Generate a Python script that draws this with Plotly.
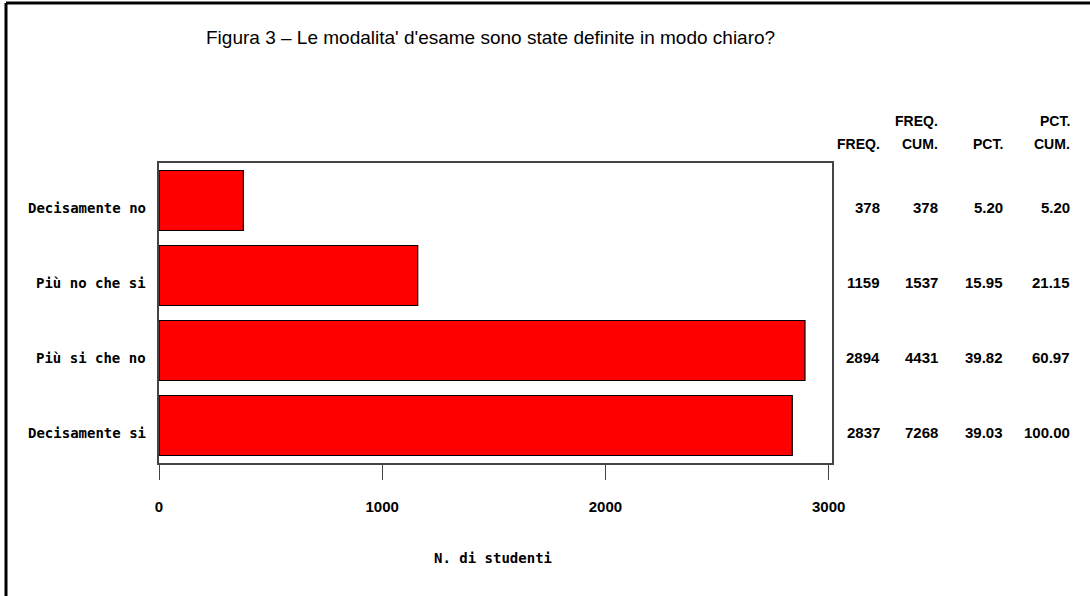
import plotly.graph_objects as go

categories = ["Decisamente no", "Più no che si", "Più si che no", "Decisamente si"]
freq = [378, 1159, 2894, 2837]
freq_cum = [378, 1537, 4431, 7268]
pct = [5.20, 15.95, 39.82, 39.03]
pct_cum = [5.20, 21.15, 60.97, 100.00]
x_ticks = [0, 1000, 2000, 3000]

title_text = "Figura 3 \u2013 Le modalita' d'esame sono state definite in modo chiaro?"
x_title = "N. di studenti"

W, H = 1090, 596
L, R, T, B = 159, 832, 163, 463
pw, ph = R - L, B - T

def px(x):
    return (x - L) / pw

def py(y):
    return (B - y) / ph

MONO = "DejaVu Sans Mono"
SANS = "Liberation Sans"
TEXT_DROP = -7  # SAS places row texts on a baseline slightly below bar centre

fig = go.Figure()
fig.add_trace(go.Bar(
    x=freq, y=categories, orientation="h",
    marker=dict(color="#ff0000", line=dict(color="#000000", width=1.2)),
    width=0.8, hoverinfo="x+y",
))

annotations = []
# category labels
for c in categories:
    annotations.append(dict(
        x=px(148), xref="paper", y=c, yref="y", text=c,
        showarrow=False, xanchor="right", yanchor="middle", yshift=TEXT_DROP,
        font=dict(family=MONO, size=14, color="#000", weight="bold"),
    ))

cols = [
    (freq, "{:d}", 882, ["", "FREQ."]),
    (freq_cum, "{:d}", 940, ["FREQ.", "CUM."]),
    (pct, "{:.2f}", 1005, ["", "PCT."]),
    (pct_cum, "{:.2f}", 1072, ["PCT.", "CUM."]),
]
num_font = dict(family=SANS, size=15, color="#000", weight="bold")
hdr_font = dict(family=SANS, size=14, color="#000", weight="bold")
for vals, fmt, xr, hdr in cols:
    for c, v in zip(categories, vals):
        annotations.append(dict(
            x=px(xr), xref="paper", y=c, yref="y", text=fmt.format(v),
            showarrow=False, xanchor="right", yanchor="middle", yshift=TEXT_DROP,
            font=num_font,
        ))
    for line, yy in zip(hdr, [121, 144]):
        if line:
            annotations.append(dict(
                x=px(xr), xref="paper", y=py(yy), yref="paper", text=line,
                showarrow=False, xanchor="right", yanchor="middle",
                font=hdr_font,
            ))

annotations.append(dict(
    x=(490 - L) / pw, xref="paper", y=py(38), yref="paper", text=title_text,
    showarrow=False, xanchor="center", yanchor="middle",
    font=dict(family=SANS, size=19, color="#000"),
))
annotations.append(dict(
    x=(493 - L) / pw, xref="paper", y=py(558), yref="paper", text=x_title,
    showarrow=False, xanchor="center", yanchor="middle",
    font=dict(family=MONO, size=14, color="#000", weight="bold"),
))

shapes = [
    dict(type="line", xref="paper", yref="paper", x0=px(6), x1=px(6), y0=py(3), y1=py(700),
         line=dict(color="#000", width=3)),
    dict(type="line", xref="paper", yref="paper", x0=px(6), x1=px(1200), y0=py(3), y1=py(3),
         line=dict(color="#000", width=3)),
]

fig.update_layout(
    width=W, height=H,
    margin=dict(l=L, r=W - R, t=T, b=H - B),
    paper_bgcolor="#ffffff", plot_bgcolor="#ffffff",
    showlegend=False,
    annotations=annotations,
    shapes=shapes,
    xaxis=dict(
        range=[0, 3015], tickvals=x_ticks, ticktext=[str(t) for t in x_ticks],
        showgrid=False, zeroline=False, showline=True, mirror=True,
        linecolor="#444", linewidth=1.5,
        ticks="outside", ticklen=15, tickcolor="#444", tickwidth=1.2,
        tickfont=dict(family=SANS, size=15, color="#000", weight="bold"),
        ticklabelstandoff=14,
        fixedrange=True,
    ),
    yaxis=dict(
        range=[3.5, -0.5],
        showgrid=False, zeroline=False, showline=True, mirror=True,
        linecolor="#444", linewidth=1.5, ticks="", showticklabels=False,
        fixedrange=True,
    ),
    bargap=0.2,
)

fig.write_html(
    "out.html",
    config={"displayModeBar": False},
    post_script="document.body.style.margin='0';document.body.style.overflow='hidden';",
)
